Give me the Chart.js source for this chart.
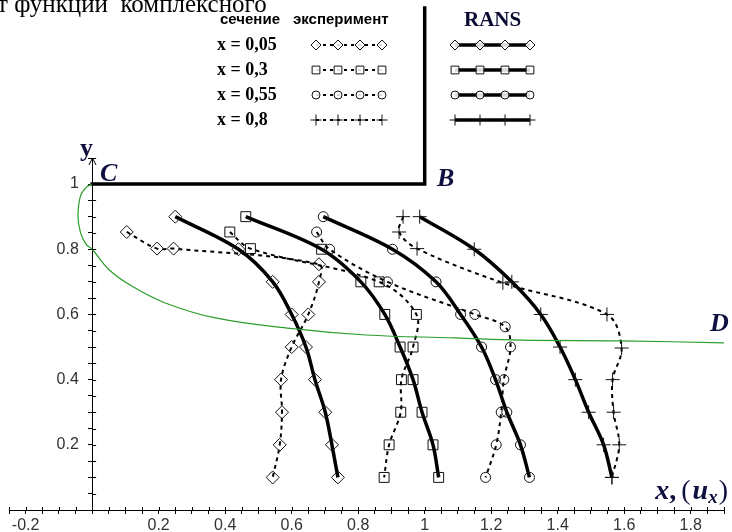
<!DOCTYPE html>
<html><head><meta charset="utf-8">
<script src="https://cdn.jsdelivr.net/npm/chart.js@4/dist/chart.umd.min.js"></script>
<style>html,body{margin:0;padding:0;background:#fff}#wrap{width:732px;height:532px;position:relative}</style>
</head><body><div id="wrap"><canvas id="c" width="732" height="532"></canvas></div>
<script>
// ---- legend / categories ----
const sectionLabels = ['x = 0,05', 'x = 0,3', 'x = 0,55', 'x = 0,8'];
const markerStyles = ['rectRot', 'rect', 'circle', 'cross'];
const markerRadii = [6.5, 7, 5, 7];
const legendRadii = [5, 5.5, 4, 5.5];
const headerLabels = ['сечение', 'эксперимент', 'RANS'];

// ---- experiment (dashed) ----
const exp005X = [0.104, 0.195, 0.245, 0.682, 0.682, 0.650, 0.600, 0.568, 0.571, 0.564, 0.543];
const exp005Y = [0.853, 0.802, 0.802, 0.754, 0.700, 0.600, 0.500, 0.400, 0.300, 0.200, 0.100];
const exp03X  = [0.414, 0.476, 0.863, 0.975, 0.965, 0.930, 0.928, 0.893, 0.878];
const exp03Y  = [0.853, 0.802, 0.700, 0.600, 0.500, 0.400, 0.300, 0.200, 0.100];
const exp055X = [0.675, 0.714, 0.888, 1.151, 1.242, 1.258, 1.238, 1.230, 1.215, 1.183];
const exp055Y = [0.853, 0.800, 0.700, 0.600, 0.562, 0.500, 0.400, 0.300, 0.200, 0.100];
const exp08X  = [0.935, 0.923, 0.977, 1.235, 1.548, 1.592, 1.565, 1.568, 1.585, 1.563];
const exp08Y  = [0.900, 0.853, 0.802, 0.697, 0.600, 0.497, 0.400, 0.300, 0.200, 0.100];

// ---- RANS (solid) ----
const ransY    = [0.9, 0.8, 0.7, 0.6, 0.5, 0.4, 0.3, 0.2, 0.1];
const rans005X = [0.250, 0.440, 0.543, 0.600, 0.643, 0.670, 0.701, 0.721, 0.739];
const rans03X  = [0.462, 0.690, 0.808, 0.880, 0.926, 0.965, 0.992, 1.025, 1.042];
const rans055X = [0.695, 0.903, 1.034, 1.108, 1.171, 1.213, 1.247, 1.288, 1.315];
const rans08X  = [0.985, 1.149, 1.262, 1.349, 1.407, 1.453, 1.493, 1.538, 1.563];

// ---- boundary C-D (green) ----
const cdX = [0, -0.018, -0.035, -0.0425, -0.035, -0.018, 0, 0.05, 0.119, 0.218, 0.367, 0.595, 0.824, 1.091, 1.29, 1.588, 1.90];
const cdY = [1.0, 0.99, 0.964, 0.903, 0.851, 0.815, 0.80, 0.738, 0.687, 0.636, 0.59, 0.557, 0.537, 0.528, 0.521, 0.519, 0.513];

// ---- wall C-B ----
const wallX = [0, 1.0, 1.0];
const wallY = [1.0, 1.0, 1.54];

// ---- axes ----
const xMin = -0.25, xMax = 1.9, yMin = 0, yMax = 1.08, tickStep = 0.05, labelStep = 0.2;

function pts(xs, ys) { return xs.map((x, i) => ({x: x, y: ys[i]})); }

const expSets = [[exp005X, exp005Y], [exp03X, exp03Y], [exp055X, exp055Y], [exp08X, exp08Y]];
const ransSets = [rans005X, rans03X, rans055X, rans08X];

const datasets = [];
datasets.push({
  label: 'CD', data: pts(cdX, cdY), showLine: true, borderColor: '#2a9d2a', borderWidth: 1.2,
  pointRadius: 0, tension: 0.4, fill: false
});
datasets.push({
  label: 'CB', data: pts(wallX, wallY), showLine: true, borderColor: '#000', borderWidth: 3.5,
  pointRadius: 0, tension: 0, fill: false, clip: false, borderCapStyle: 'square', borderJoinStyle: 'miter'
});
expSets.forEach((s, i) => datasets.push({
  label: 'exp ' + sectionLabels[i], data: pts(s[0], s[1]), showLine: true,
  borderColor: '#000', borderWidth: 2, borderDash: [4, 4], tension: 0.35, fill: false,
  pointStyle: markerStyles[i], pointRadius: markerRadii[i], pointBorderWidth: 1,
  pointBorderColor: '#111', pointBackgroundColor: 'rgba(0,0,0,0)'
}));
ransSets.forEach((xs, i) => datasets.push({
  label: 'RANS ' + sectionLabels[i], data: pts(xs, ransY), showLine: true,
  borderColor: '#000', borderWidth: 3.5, tension: 0.35, fill: false,
  pointStyle: markerStyles[i], pointRadius: markerRadii[i], pointBorderWidth: 1,
  pointBorderColor: '#111', pointBackgroundColor: 'rgba(0,0,0,0)'
}));

function isMajor(v) { const q = v / labelStep; return Math.abs(q - Math.round(q)) < 1e-6 && Math.abs(v) > 1e-9; }
function xTickLabel(v) { return isMajor(v) ? String(Math.round(v * 10) / 10) : ''; }
function yTickLabel(v) { return isMajor(v) ? String(Math.round(v * 10) / 10) + '   ' : ''; }

const tickFont = {family: '"Liberation Sans", Arial, sans-serif', size: 16};

const decor = {
  id: 'decor',
  afterDraw(chart) {
    const ctx = chart.ctx, xs = chart.scales.x, ys = chart.scales.y;
    const x0 = xs.getPixelForValue(0), y0 = ys.getPixelForValue(0);
    ctx.save();
    // opposite half of tick marks
    ctx.strokeStyle = '#000'; ctx.lineWidth = 1;
    ctx.beginPath();
    xs.ticks.forEach(t => { const p = Math.round(xs.getPixelForValue(t.value)) + 0.5; ctx.moveTo(p, y0 - 3); ctx.lineTo(p, y0); });
    ys.ticks.forEach(t => { const p = Math.round(ys.getPixelForValue(t.value)) + 0.5; ctx.moveTo(x0, p); ctx.lineTo(x0 + 4, p); });
    ctx.stroke();
    // arrow on y axis
    const top = chart.chartArea.top;
    ctx.beginPath();
    ctx.moveTo(Math.round(x0) - 3, top + 7); ctx.lineTo(Math.round(x0) + 0.5, top); ctx.lineTo(Math.round(x0) + 4, top + 7);
    ctx.stroke();

    // cropped document text at the very top
    ctx.fillStyle = '#000';
    ctx.textBaseline = 'alphabetic'; ctx.textAlign = 'left';
    ctx.font = '25px "Liberation Serif", "Times New Roman", serif';
    ctx.fillText('т функции  комплексного', -3, 12);

    // point labels
    ctx.fillStyle = '#101040';
    ctx.font = 'bold 26px "Liberation Serif", serif';
    ctx.fillText('y', 80, 156);
    ctx.font = 'italic bold 26px "Liberation Serif", serif';
    ctx.fillText('C', 100, 181);
    ctx.fillText('B', 437, 186);
    ctx.fillText('D', 710, 331);
    // axis title x,(u_x), right aligned near the right edge
    const parts = [
      ['x', 'italic bold 28px "Liberation Serif", serif', 499, 0],
      [',', 'bold 28px "Liberation Serif", serif', 499, 5],
      ['(', '28px "Liberation Serif", serif', 499, 2],
      ['u', 'italic bold 28px "Liberation Serif", serif', 499, 0],
      ['x', 'italic bold 19px "Liberation Serif", serif', 503, 1],
      [')', '28px "Liberation Serif", serif', 499, 0]
    ];
    let total = 0;
    parts.forEach(p => { ctx.font = p[1]; total += ctx.measureText(p[0]).width + p[3]; });
    let tx = 728 - total;
    parts.forEach(p => { ctx.font = p[1]; ctx.fillText(p[0], tx, p[2]); tx += ctx.measureText(p[0]).width + p[3]; });

    // legend table
    ctx.fillStyle = '#000';
    ctx.textBaseline = 'middle';
    ctx.font = 'bold 15px "Liberation Sans Narrow", "Liberation Sans", sans-serif';
    ctx.fillText(headerLabels[0], 220, 20);
    ctx.fillText(headerLabels[1], 293, 20);
    ctx.fillStyle = '#0a0a30';
    ctx.font = 'bold 21px "Liberation Serif", serif';
    ctx.fillText(headerLabels[2], 464, 21);
    ctx.fillStyle = '#000';
    const rowsY = [45, 70, 95, 120];
    const H = Chart.helpers;
    sectionLabels.forEach((lab, i) => {
      const yy = rowsY[i];
      ctx.font = 'bold 18px "Liberation Serif", serif';
      ctx.fillStyle = '#000';
      ctx.fillText(lab, 217, yy);
      // experiment sample
      const ex = [316, 338, 360, 382];
      ctx.save(); ctx.strokeStyle = '#000'; ctx.lineWidth = 2; ctx.setLineDash([3, 4]);
      ctx.beginPath(); ctx.moveTo(ex[0], yy); ctx.lineTo(ex[3], yy); ctx.stroke(); ctx.restore();
      // RANS sample
      const rx = [455, 480, 505, 530];
      ctx.save(); ctx.strokeStyle = '#000'; ctx.lineWidth = 3.5;
      ctx.beginPath(); ctx.moveTo(rx[0], yy); ctx.lineTo(rx[3], yy); ctx.stroke(); ctx.restore();
      [ex, rx].forEach(arr => arr.forEach(px => {
        ctx.save(); ctx.strokeStyle = '#111'; ctx.fillStyle = 'rgba(255,255,255,0.85)'; ctx.lineWidth = 1;
        H.drawPoint(ctx, {pointStyle: markerStyles[i], radius: legendRadii[i], rotation: 0, borderWidth: 1}, px, yy);
        ctx.restore();
      }));
    });
    ctx.restore();
  }
};

new Chart(document.getElementById('c'), {
  type: 'scatter',
  data: {datasets: datasets},
  options: {
    responsive: false, animation: false, devicePixelRatio: 1,
    layout: {padding: {left: 9, right: 0, top: 158, bottom: 22}},
    plugins: {legend: {display: false}, tooltip: {enabled: false}, title: {display: false}},
    scales: {
      x: {
        type: 'linear', min: xMin, max: xMax, position: {y: 0},
        border: {display: true, color: '#000', width: 1},
        grid: {display: true, drawOnChartArea: false, drawTicks: true, tickLength: 3, color: '#000', lineWidth: 1},
        ticks: {stepSize: tickStep, autoSkip: false, maxRotation: 0, padding: 3, color: '#333', font: tickFont, callback: xTickLabel}
      },
      y: {
        type: 'linear', min: yMin, max: yMax, position: {x: 0},
        border: {display: true, color: '#000', width: 1},
        grid: {display: true, drawOnChartArea: false, drawTicks: true, tickLength: 4, color: '#000', lineWidth: 1},
        ticks: {stepSize: tickStep, autoSkip: false, padding: 4, color: '#333', font: tickFont, callback: yTickLabel}
      }
    }
  },
  plugins: [decor]
});
</script>
</body></html>
